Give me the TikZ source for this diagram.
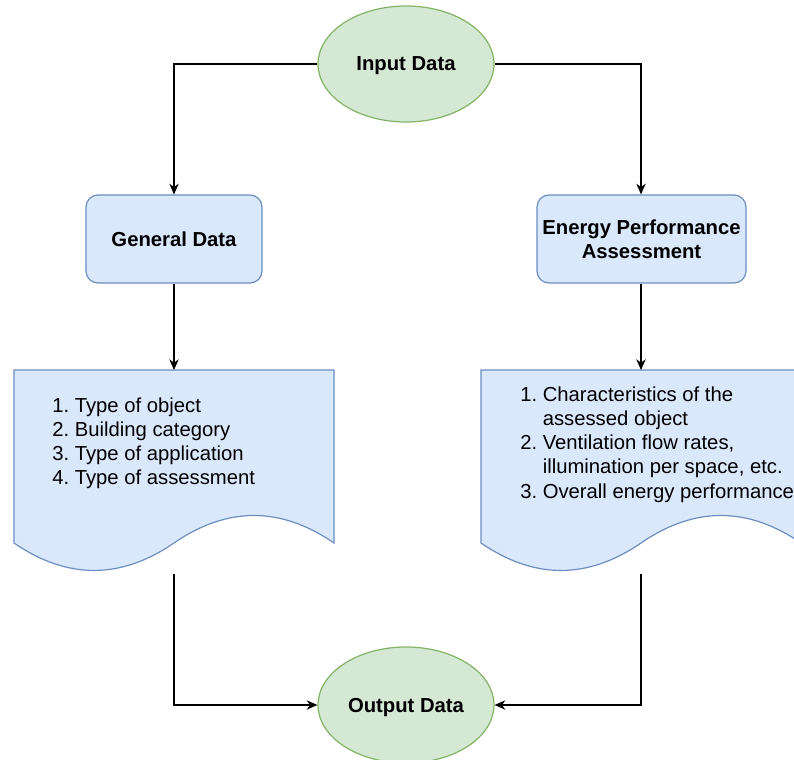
\documentclass[tikz,border=0pt]{standalone}
\usepackage{fontspec}
\setmainfont{Liberation Sans}
\usetikzlibrary{arrows.meta,shapes.geometric}
\definecolor{gfill}{HTML}{D5E8D4}
\definecolor{gdraw}{HTML}{82B366}
\definecolor{bfill}{HTML}{DAE8FC}
\definecolor{bdraw}{HTML}{6C8EBF}
\begin{document}
\begin{tikzpicture}[x=0.75pt,y=-0.75pt,
  term/.style={ellipse, draw=gdraw, fill=gfill, line width=0.9pt, minimum width=132pt, minimum height=87pt, inner sep=0pt, text depth=0pt, font=\fontsize{15.2}{18}\selectfont\bfseries},
  procbox/.style={rectangle, rounded corners=9pt, draw=bdraw, fill=bfill, line width=0.9pt, minimum height=66pt, align=center, inner sep=0pt, font=\fontsize{15.2}{18}\selectfont\bfseries},
  docshape/.style={draw=bdraw, fill=bfill, line width=0.9pt},
  listtext/.style={anchor=base west, inner sep=0pt, font=\fontsize{15.2}{18.2}\selectfont},
  conn/.style={line width=1pt, -{Stealth[length=8pt,width=7pt,inset=2.5pt]}}
]
\useasboundingbox (0,0) rectangle (794,760);
\clip (0,0) rectangle (794,760);

% documents
\path[docshape] (14,370) -- (334,370) -- (334,543)
  .. controls (280.67,506.33) and (227.33,506.33) .. (174,543)
  .. controls (120.67,579.6) and (67.33,579.6) .. (14,543) -- cycle;
\path[docshape] (481,370) -- (801,370) -- (801,543)
  .. controls (747.67,506.33) and (694.33,506.33) .. (641,543)
  .. controls (587.67,579.6) and (534.33,579.6) .. (481,543) -- cycle;
\coordinate (d1top) at (174,370);
\coordinate (d1bot) at (174,573.5);
\coordinate (d2top) at (641,370);
\coordinate (d2bot) at (641,573.5);

\node[listtext] (l1) at (52,412) {\begin{tabular}[t]{@{}l@{\ }l@{}}
1. & Type of object\\
2. & Building category\\
3. & Type of application\\
4. & Type of assessment
\end{tabular}};
\node[listtext] (l2) at (520,401) {\begin{tabular}[t]{@{}l@{\ }l@{}}
1. & Characteristics of the\\
   & assessed object\\
2. & Ventilation flow rates,\\
   & illumination per space, etc.\\
3. & Overall energy performance
\end{tabular}};

% nodes
\node[term] (inp) at (406,64) {Input Data};
\node[term] (out) at (406,705) {Output Data};
\node[procbox, minimum width=132pt] (gen) at (174,239) {General Data};
\node[procbox, minimum width=156.75pt] (epa) at (641.5,239) {Energy Performance\\Assessment};

% connectors
\draw[conn] (inp.west) -| (gen.north);
\draw[conn] (inp.east) -| (epa.north -| d2top);
\draw[conn] (gen.south) -- (d1top);
\draw[conn] (epa.south -| d2top) -- (d2top);
\draw[conn] (d1bot) |- (out.west);
\draw[conn] (d2bot) |- (out.east);
\end{tikzpicture}
\end{document}
